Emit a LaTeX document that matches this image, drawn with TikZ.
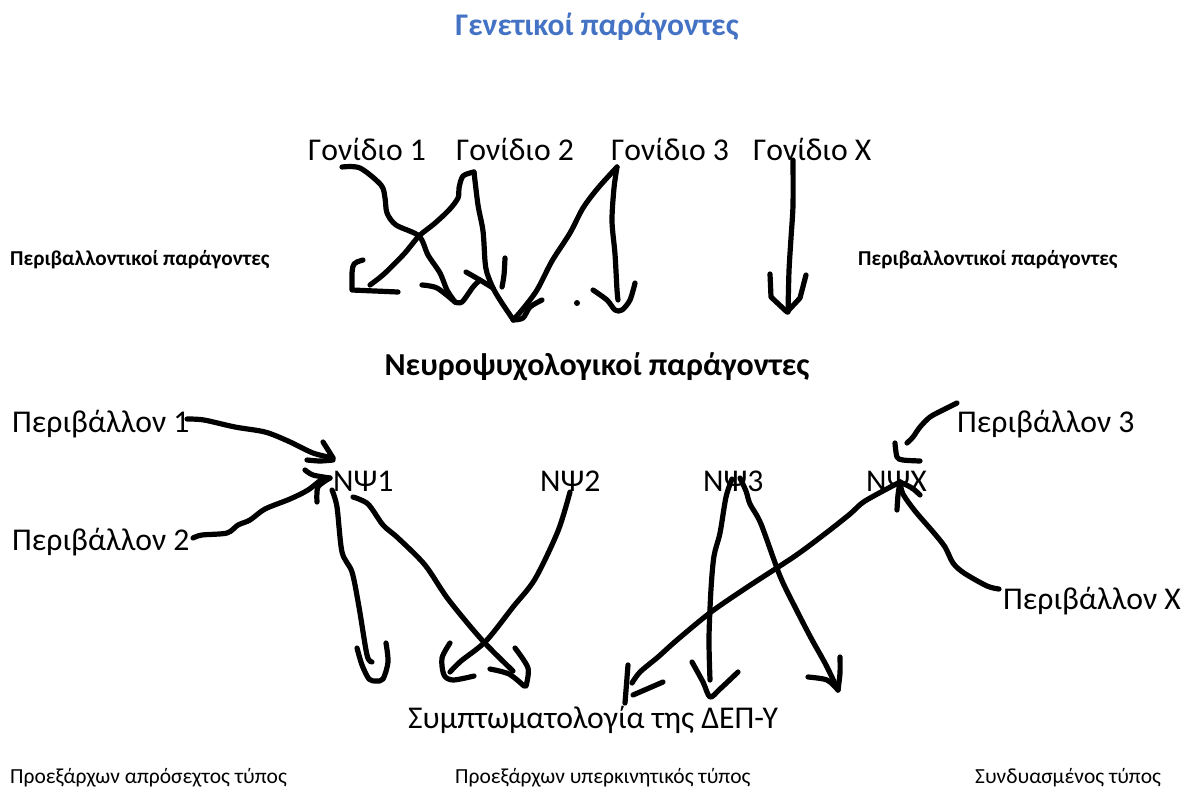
\documentclass[tikz,border=0pt]{standalone}
\usepackage{fontspec}
\setmainfont{Carlito}
\definecolor{titleblue}{RGB}{68,114,196}
\begin{document}
\begin{tikzpicture}[x=1pt,y=-1pt,
  big/.style={inner sep=0pt, anchor=base west, font=\fontsize{31.7}{36}\selectfont},
  small/.style={inner sep=0pt, anchor=base west, font=\fontsize{21.5}{25}\selectfont},
  smallbold/.style={inner sep=0pt, anchor=base west, font=\fontsize{21.2}{25}\selectfont\bfseries},
  heading/.style={inner sep=0pt, anchor=base, font=\fontsize{32}{38}\selectfont\bfseries},
  titletext/.style={inner sep=0pt, anchor=base, text=titleblue, font=\fontsize{31.5}{36}\selectfont\bfseries},
  ink/.style={line width=5.2pt, line cap=round, line join=round},
  sm/.style={smooth, tension=0.5}]
\fill[white] (0,0) rectangle (1191,788);
\useasboundingbox (0,0) rectangle (1191,788);

% texts
\node[titletext] (title) at (597,35) {Γενετικοί παράγοντες};
\node[big] (g1) at (308,160) {Γονίδιο 1};
\node[big] (g2) at (456,160) {Γονίδιο 2};
\node[big] (g3) at (611,160) {Γονίδιο 3};
\node[big] (gx) at (753,160) {Γονίδιο Χ};
\node[smallbold] (envl) at (10,265) {Περιβαλλοντικοί παράγοντες};
\node[smallbold] (envr) at (858,265) {Περιβαλλοντικοί παράγοντες};
\node[heading] (neuro) at (597,375) {Νευροψυχολογικοί παράγοντες};
\node[big] (p1) at (12,432) {Περιβάλλον 1};
\node[big] (p3) at (957,432) {Περιβάλλον 3};
\node[big] (n1) at (333,491) {ΝΨ1};
\node[big] (n2) at (540,491) {ΝΨ2};
\node[big] (n3) at (703,491) {ΝΨ3};
\node[big] (nx) at (866,491) {ΝΨΧ};
\node[big] (p2) at (12,550) {Περιβάλλον 2};
\node[big] (px) at (1003,609) {Περιβάλλον Χ};
\node[big] (sympt) at (408,728) {Συμπτωματολογία της ΔΕΠ-Υ};
\node[small] (t1) at (10,783) {Προεξάρχων απρόσεχτος τύπος};
\node[small] (t2) at (455,783) {Προεξάρχων υπερκινητικός τύπος};
\node[small] (t3) at (975,783) {Συνδυασμένος τύπος};

% Gene strokes
\draw[ink] plot[sm] coordinates {(342,167)(360,168)(381,185)(385,198)(387,213)(396,225)(419,236)(428,255)(440,273)(447,290)(455,302)};
\draw[ink] plot[sm] coordinates {(422,285)(437,288)(455,302)};
\draw[ink] plot[sm] coordinates {(455,302)(462,302)(473,287)(480,280)};
\draw[ink] plot[sm] coordinates {(474,172)(463,176)(459,188)(458,198)(449,210)(434,224)(419,236)(404,254)(384,274)(370,285)};
\draw[ink] (363,260) .. controls (353,263) .. (352,273) -- (352,290) -- (398,292);
\draw[ink] plot[sm] coordinates {(474,172)(478,205)(483,231)(485,261)(487,273)(493,288)(500,300)(512,318)};
\draw[ink] plot[sm] coordinates {(466,272)(480,280)(493,288)};
\draw[ink] plot[sm] coordinates {(505,258)(504,275)(502,287)};
\draw[ink] plot[sm] coordinates {(617,167)(598,188)(583,208)(570,233)(552,261)(537,290)(522,310)(513,320)};
\draw[ink] plot[sm] coordinates {(513,320)(523,318)(530,307)(542,300)};
\draw[ink] plot[sm] coordinates {(617,167)(614,188)(612,221)(615,254)(617,290)(618,300)};
\draw[ink] plot[sm] coordinates {(593,290)(607,300)(615,310)(622,310)(630,300)(635,283)};
\fill (577,303) circle (3);
\draw[ink] plot[sm] coordinates {(793,160)(793,205)(791,238)(789,271)(788,312)};
\draw[ink] (770,274) -- (771,297) -- (787,312) -- (800,298) -- (806,275);

% Environment -> NPsi strokes
\draw[ink] plot[sm] coordinates {(187,419)(204,420)(235,427)(265,432)(288,441)(313,453)(333,458)};
\draw[ink] plot[sm] coordinates {(323,442)(330,453)(333,458)};
\draw[ink] plot[sm] coordinates {(307,460)(320,461)(333,460)};
\draw[ink] plot[sm] coordinates {(193,538)(202,535)(227,533)(238,525)(250,520)(265,509)(290,499)(308,490)(323,478)};
\draw[ink] plot[sm] coordinates {(305,470)(313,475)(330,478)};
\draw[ink] plot[sm] coordinates {(317,502)(318,487)(330,478)};
\draw[ink] plot[sm] coordinates {(957,403)(943,410)(930,417)(920,427)(913,437)(907,443)};
\draw[ink] plot[sm] coordinates {(895,443)(897,457)(903,460)(920,461)};
\draw[ink] plot[sm] coordinates {(999,589)(987,586)(964,573)(953,563)(945,547)(934,533)(915,511)(903,494)(900,482)};
\draw[ink] plot[sm] coordinates {(897,510)(898,495)(900,482)};
\draw[ink] plot[sm] coordinates {(900,482)(912,488)(920,495)};

% NPsi -> symptoms strokes
\draw[ink] plot[sm] coordinates {(332,490)(337,507)(342,552)(352,572)(359,607)(367,655)(372,662)};
\draw[ink] plot[sm] coordinates {(357,648)(362,665)(369,679)(376,681)(383,679)(388,662)(386,643)};
\draw[ink] plot[sm] coordinates {(353,497)(368,504)(383,525)(398,538)(425,565)(448,599)(482,640)(513,671)};
\draw[ink] plot[sm] coordinates {(490,669)(509,674)(524,686)};
\draw[ink] plot[sm] coordinates {(515,648)(528,668)(526,686)};
\draw[ink] plot[sm] coordinates {(570,492)(558,531)(535,579)(513,607)(486,641)(461,661)(450,672)};
\draw[ink] plot[sm] coordinates {(450,643)(442,658)(444,675)(453,680)(474,676)};
\draw[ink] plot[sm] coordinates {(732,479)(726,497)(720,533)(714,556)(711,589)(709,638)(710,680)};
\draw[ink] plot[sm] coordinates {(692,662)(703,682)(710,697)(720,689)(738,672)};
\draw[ink] plot[sm] coordinates {(740,478)(746,491)(750,504)(761,524)(780,576)(796,609)(811,638)(826,665)(838,690)};
\draw[ink] plot[sm] coordinates {(808,677)(827,680)(838,690)};
\draw[ink] plot[sm] coordinates {(840,657)(840,673)(838,690)};
\draw[ink] plot[sm] coordinates {(900,482)(865,501)(850,514)(826,533)(795,556)(749,586)(711,612)(677,640)(658,657)(640,672)(632,683)};
\draw[ink] (628,665) -- (625,703);
\draw[ink] (633,695) -- (663,682);
\end{tikzpicture}
\end{document}
